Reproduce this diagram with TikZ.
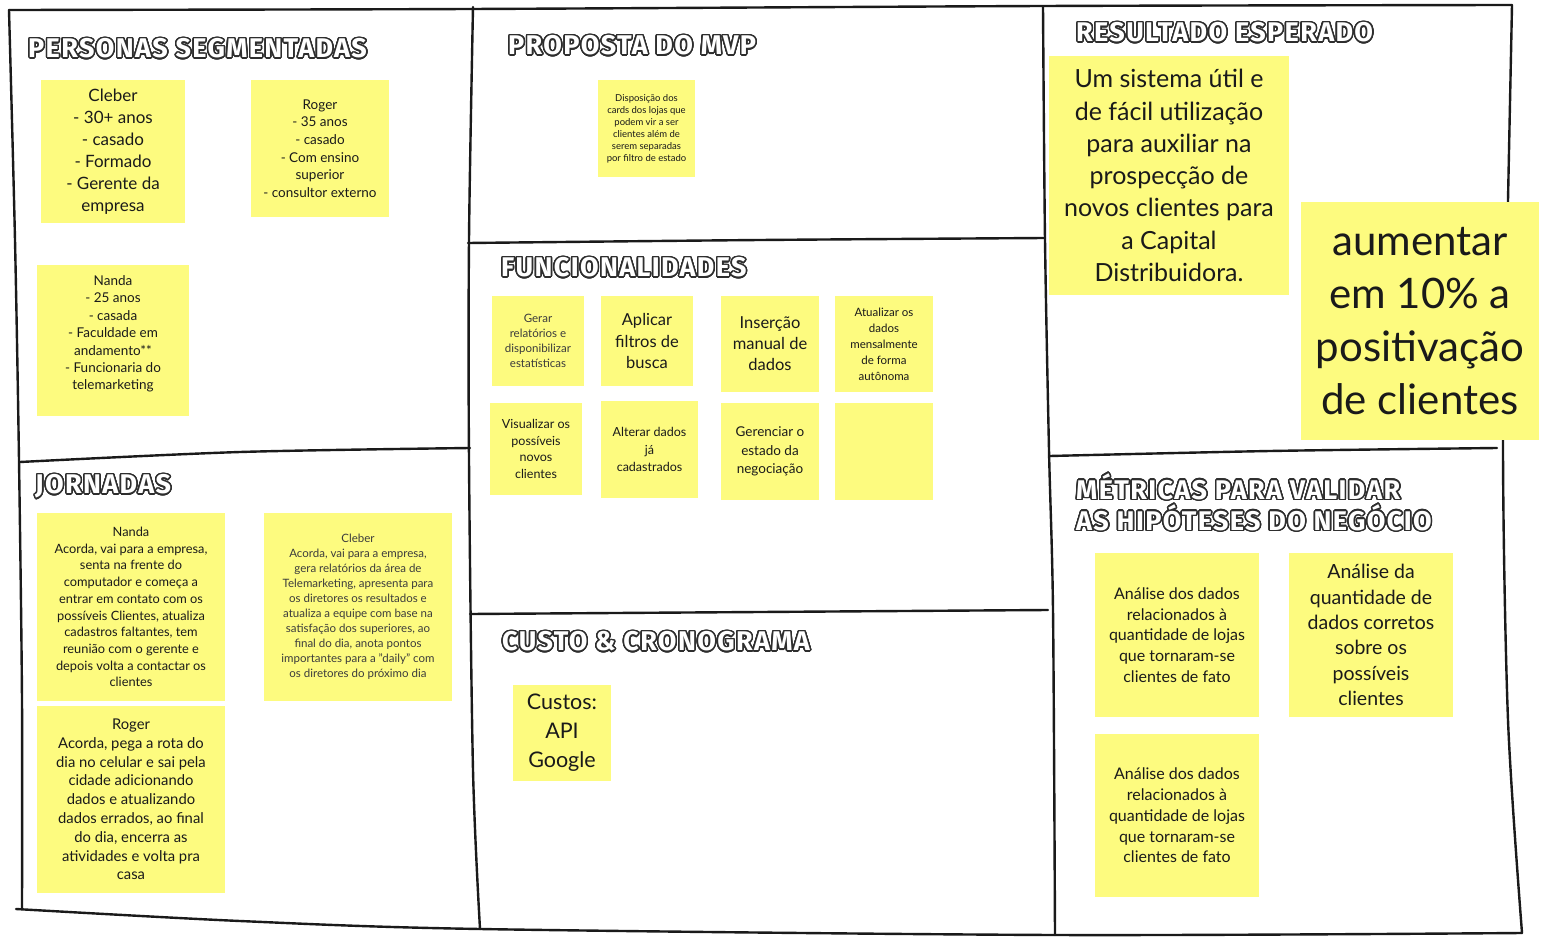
\documentclass[tikz,border=0pt]{standalone}
\usepackage{fontspec}
\setmainfont{Lato}
\newfontfamily\headfont{Fira Sans}[LetterSpace=5]
\usepackage[copies]{contour}
\contourlength{1.5pt}
\contournumber{24}
\definecolor{sticky}{HTML}{FDFB7F}
\definecolor{ink}{HTML}{1A1A1A}
\definecolor{softink}{HTML}{3C3C3C}
\definecolor{outline}{HTML}{2E2E2E}

\begin{document}
\begin{tikzpicture}[x=1pt, y=-1pt,
	note/.style={fill=sticky, text=ink, align=center, inner sep=0pt},
	head/.style={anchor=west, text=white, inner sep=0pt, align=left, font=\headfont\bfseries\fontsize{27}{31}\selectfont},
	frame/.style={line width=2.4pt, draw=ink, line cap=round, line join=round}]
	\useasboundingbox [fill=white] (0,0) rectangle (1548,944);

	\draw [frame] plot [smooth, tension=0.5] coordinates {(9,10) (470,9) (1043,6) (1512,5)};
	\draw [frame] plot [smooth, tension=0.5] coordinates {(9,10) (15,240) (19,460) (22,700) (22,908)};
	\draw [frame] plot [smooth, tension=0.5] coordinates {(16,909) (240,921) (480,929) (1055,935) (1522,933)};
	\draw [frame] plot [smooth, tension=0.5] coordinates {(1512,5) (1508,200) (1503,445) (1508,720) (1522,933)};
	\draw [frame] plot [smooth, tension=0.5] coordinates {(473,7) (469,240) (469,460) (473,770) (480,929)};
	\draw [frame] plot [smooth, tension=0.5] coordinates {(1043,7) (1045,240) (1049,450) (1053,610) (1055,935)};
	\draw [frame] plot [smooth, tension=0.5] coordinates {(20,462) (240,452) (470,448)};
	\draw [frame] plot [smooth, tension=0.5] coordinates {(468,243) (760,240) (1045,238)};
	\draw [frame] plot [smooth, tension=0.5] coordinates {(470,614) (760,612) (1048,610)};
	\draw [frame] plot [smooth, tension=0.5] coordinates {(1050,456) (1270,451) (1497,448)};

	\node [head] (hPersonas) at (28,49) {\contour{outline}{PERSONAS SEGMENTADAS}};
	\node [head] (hProposta) at (508,46) {\contour{outline}{PROPOSTA DO MVP}};
	\node [head] (hResultado) at (1076,33) {\contour{outline}{RESULTADO ESPERADO}};
	\node [head] (hFuncoes) at (501,268) {\contour{outline}{FUNCIONALIDADES}};
	\node [head] (hJornadas) at (35,487) {\contour{outline}{JORNADAS}};
	\node [head] (hCusto) at (502,642) {\contour{outline}{CUSTO \& CRONOGRAMA}};
	\node [head] (hMetricas) at (1076,503) {\contour{outline}{MÉTRICAS PARA VALIDAR}\\\contour{outline}{AS HIPÓTESES DO NEGÓCIO}};

	\node [note, minimum width=144, minimum height=143, font=\fontsize{17}{22}\selectfont] (pCleber) at (113,151.5) {Cleber\\- 30+ anos\\- casado\\- Formado\\- Gerente da\\empresa};
	\node [note, minimum width=138, minimum height=137, font=\fontsize{13.5}{17.7}\selectfont] (pRoger) at (320,148.5) {Roger\\- 35 anos\\- casado\\- Com ensino\\superior\\- consultor externo};
	\node [note, minimum width=152, minimum height=151, font=\fontsize{13.5}{17.4}\selectfont] (pNanda) at (113,340.5) {Nanda\\- 25 anos\\- casada\\- Faculdade em\\andamento**\\- Funcionaria do\\telemarketing\\[-2pt]\mbox{}};

	\node [note, minimum width=97, minimum height=97, font=\fontsize{9.5}{12}\selectfont] (mCards) at (646.5,128.5) {Disposição dos\\cards dos lojas que\\podem vir a ser\\clientes além de\\serem separadas\\por filtro de estado};

	\node [note, text=softink, minimum width=92, minimum height=90, font=\fontsize{11.5}{15}\selectfont] (fGerar) at (538,341) {Gerar\\relatórios e\\disponibilizar\\estatísticas};
	\node [note, minimum width=92, minimum height=90, font=\fontsize{16.5}{21.5}\selectfont] (fAplicar) at (647,341) {Aplicar\\filtros de\\busca};
	\node [note, minimum width=98, minimum height=96, font=\fontsize{16.5}{21}\selectfont] (fInsercao) at (770,344) {Inserção\\manual de\\dados};
	\node [note, minimum width=98, minimum height=96, font=\fontsize{11.5}{16}\selectfont] (fAtualizar) at (884,344) {Atualizar os\\dados\\mensalmente\\de forma\\autônoma};
	\node [note, minimum width=92, minimum height=92, font=\fontsize{12.5}{16.7}\selectfont] (fVisualizar) at (536,449) {Visualizar os\\possíveis\\novos\\clientes};
	\node [note, minimum width=97, minimum height=97, font=\fontsize{12.5}{17.5}\selectfont] (fAlterar) at (649.5,449.5) {Alterar dados\\já\\cadastrados};
	\node [note, minimum width=98, minimum height=97, font=\fontsize{13.5}{18.5}\selectfont] (fGerenciar) at (770,451.5) {Gerenciar o\\estado da\\negociação};
	\node [note, minimum width=98, minimum height=97] (fVazio) at (884,451.5) {};

	\node [note, minimum width=98, minimum height=96, font=\fontsize{21.5}{29}\selectfont] (cCustos) at (562,733) {Custos:\\API\\Google};

	\node [note, minimum width=188, minimum height=188, font=\fontsize{12.8}{16.7}\selectfont] (jNanda) at (131,607) {Nanda\\Acorda, vai para a empresa,\\senta na frente do\\computador e começa a\\entrar em contato com os\\possíveis Clientes, atualiza\\cadastros faltantes, tem\\reunião com o gerente e\\depois volta a contactar os\\clientes};
	\node [note, text=softink, minimum width=188, minimum height=188, font=\fontsize{11.5}{15}\selectfont] (jCleber) at (358,607) {Cleber\\Acorda, vai para a empresa,\\gera relatórios da área de\\Telemarketing, apresenta para\\os diretores os resultados e\\atualiza a equipe com base na\\satisfação dos superiores, ao\\final do dia, anota pontos\\importantes para a "daily" com\\os diretores do próximo dia};
	\node [note, minimum width=188, minimum height=187, font=\fontsize{14.8}{18.8}\selectfont] (jRoger) at (131,799.5) {Roger\\Acorda, pega a rota do\\dia no celular e sai pela\\cidade adicionando\\dados e atualizando\\dados errados, ao final\\do dia, encerra as\\atividades e volta pra\\casa};

	\node [note, minimum width=240, minimum height=239, font=\fontsize{25}{32.3}\selectfont] (rSistema) at (1169,175.5) {Um sistema útil e\\de fácil utilização\\para auxiliar na\\prospecção de\\novos clientes para\\a Capital\\Distribuidora.};
	\node [note, minimum width=238, minimum height=238, font=\fontsize{42}{53}\selectfont] (rMeta) at (1420,321) {aumentar\\em 10\% a\\positivação\\de clientes};

	\node [note, minimum width=164, minimum height=164, font=\fontsize{16}{20.7}\selectfont] (mLojas) at (1177,635) {Análise dos dados\\relacionados à\\quantidade de lojas\\que tornaram-se\\clientes de fato};
	\node [note, minimum width=164, minimum height=164, font=\fontsize{19.5}{25.4}\selectfont] (mCorretos) at (1371,635) {Análise da\\quantidade de\\dados corretos\\sobre os\\possíveis\\clientes};
	\node [note, minimum width=164, minimum height=163, font=\fontsize{16}{20.7}\selectfont] (mLojasB) at (1177,815.5) {Análise dos dados\\relacionados à\\quantidade de lojas\\que tornaram-se\\clientes de fato};

\end{tikzpicture}
\end{document}
